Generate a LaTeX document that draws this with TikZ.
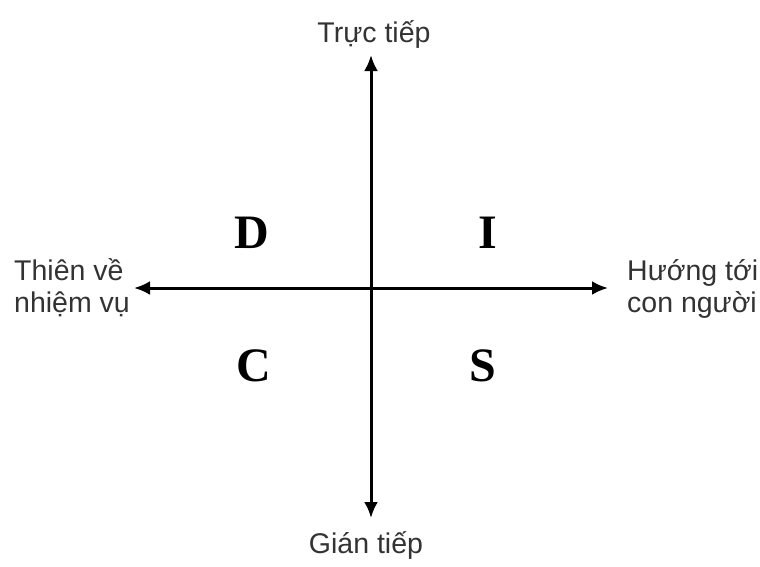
\documentclass[tikz,border=0pt]{standalone}
\usepackage{fontspec}
\setmainfont{Liberation Sans}
\newfontfamily\letterfont{Liberation Serif}
\usetikzlibrary{arrows.meta}
\definecolor{txt}{HTML}{333333}
\tikzset{
  axis/.style={line width=3pt, draw=black, {Latex[length=16pt,width=14pt]}-{Latex[length=16pt,width=14pt]}},
  lbl/.style={text=txt, font=\fontsize{28.5}{32}\selectfont, inner sep=0pt},
  quad/.style={font=\letterfont\bfseries\fontsize{48}{48}\selectfont, inner sep=0pt, text=black}
}
\begin{document}
\begin{tikzpicture}[x=1pt,y=-1pt]
\useasboundingbox[fill=white] (0,0) rectangle (760,566);
\coordinate (N) at (371,55);
\coordinate (S) at (371,518);
\coordinate (W) at (134,288);
\coordinate (E) at (608,288);
\draw[axis] (S) -- (N);
\draw[axis] (W) -- (E);
\node[lbl, anchor=base] (top) at (374,42) {Trực tiếp};
\node[lbl, anchor=base] (bot) at (366,553) {Gián tiếp};
\node[lbl, anchor=base west, align=left] (left) at (14,312) {Thiên về\\nhiệm vụ};
\node[lbl, anchor=base west, align=left] (right) at (627,312) {Hướng tới\\con người};
\node[quad] (D) at (252,233) {D};
\node[quad] (I) at (488,233) {I};
\node[quad] (C) at (254,366) {C};
\node[quad] (Sq) at (483,366) {S};
\end{tikzpicture}
\end{document}
